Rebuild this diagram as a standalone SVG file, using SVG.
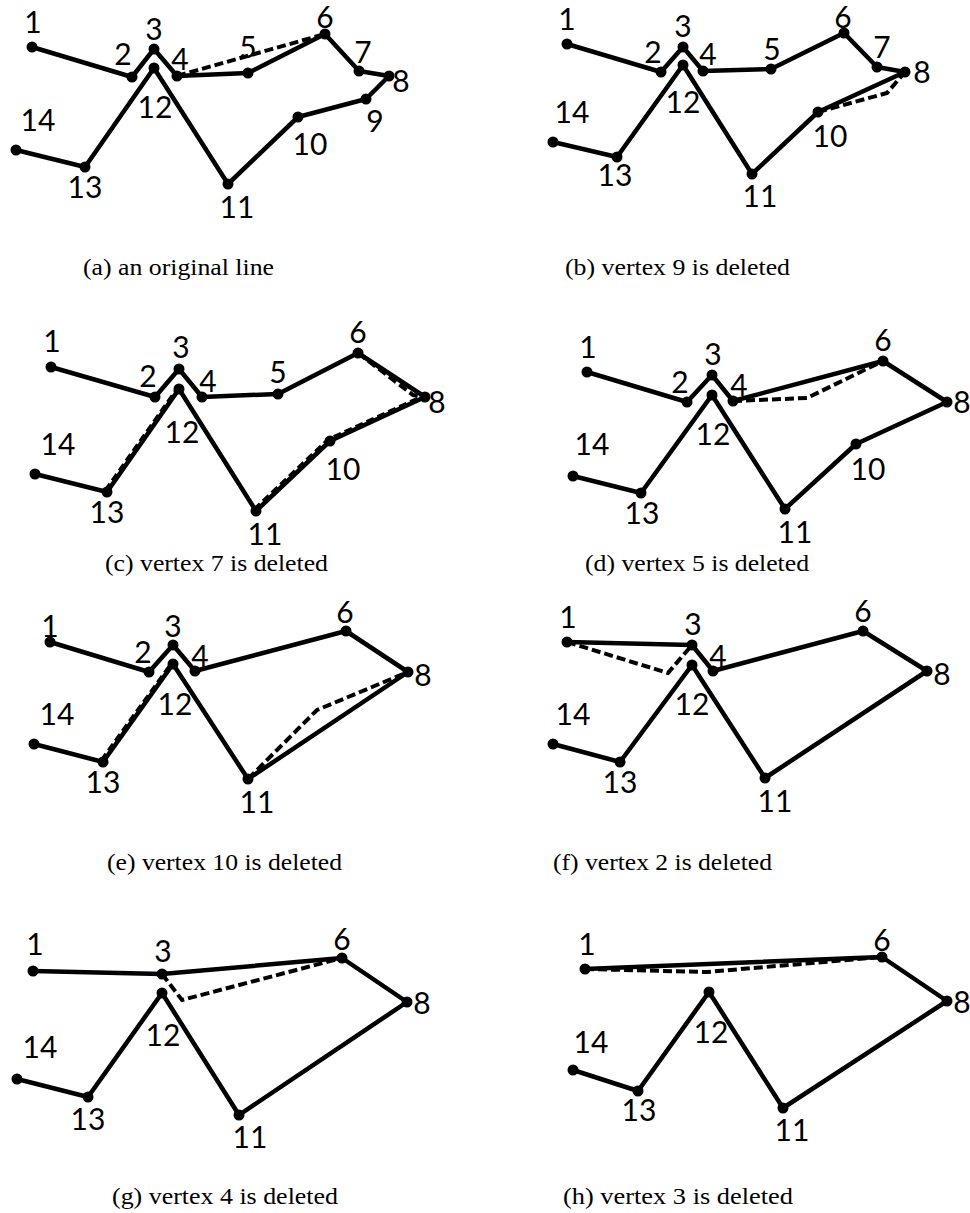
<svg xmlns="http://www.w3.org/2000/svg" width="970" height="1213" viewBox="0 0 970 1213">
  <style>
    .line { fill: none; stroke: #000; stroke-width: 4.5; stroke-linejoin: round; stroke-linecap: round; }
    .old { fill: none; stroke: #000; stroke-width: 4; stroke-dasharray: 9 4; }
    .ghost { fill: none; stroke: #000; stroke-width: 2.5; stroke-dasharray: 8 4; }
    .v circle { fill: #000; }
    .v text { font-family: "Lato", "Liberation Sans", sans-serif; font-weight: 400; font-size: 30px; text-anchor: middle; fill: #000; }
    .cap { font-family: "Liberation Serif", "Times New Roman", serif; font-size: 23px; fill: #000; }
  </style>
  <rect width="970" height="1213" fill="#fff"/>

  <!-- (a) original line -->
  <g id="panel-a">
    <g id="a-connectors">
      <polyline class="line" points="32,47 132,77 154,49 177,76 248,73 325,34 359,71 389,76 366,99 298,117 228,184 154,68 85,167 16,150"/>
      <line class="old" x1="177" y1="76" x2="325" y2="34"/>
    </g>
    <g id="a-v1" class="v"><circle cx="32" cy="47" r="5.5"/><text x="33" y="33">1</text></g>
    <g id="a-v2" class="v"><circle cx="132" cy="77" r="5.5"/><text x="123" y="65">2</text></g>
    <g id="a-v3" class="v"><circle cx="154" cy="49" r="5.5"/><text x="154" y="40">3</text></g>
    <g id="a-v4" class="v"><circle cx="177" cy="76" r="5.5"/><text x="180" y="70">4</text></g>
    <g id="a-v5" class="v"><circle cx="248" cy="73" r="5.5"/><text x="248" y="58">5</text></g>
    <g id="a-v6" class="v"><circle cx="325" cy="34" r="5.5"/><text x="325" y="28">6</text></g>
    <g id="a-v7" class="v"><circle cx="359" cy="71" r="5.5"/><text x="363" y="63">7</text></g>
    <g id="a-v8" class="v"><circle cx="389" cy="76" r="5.5"/><text x="401" y="92">8</text></g>
    <g id="a-v9" class="v"><circle cx="366" cy="99" r="5.5"/><text x="375" y="132">9</text></g>
    <g id="a-v10" class="v"><circle cx="298" cy="117" r="5.5"/><text x="310" y="155">10</text></g>
    <g id="a-v11" class="v"><circle cx="228" cy="184" r="5.5"/><text x="237" y="218">11</text></g>
    <g id="a-v12" class="v"><circle cx="154" cy="68" r="5.5"/><text x="155" y="118">12</text></g>
    <g id="a-v13" class="v"><circle cx="85" cy="167" r="5.5"/><text x="85" y="198">13</text></g>
    <g id="a-v14" class="v"><circle cx="16" cy="150" r="5.5"/><text x="38" y="131">14</text></g>
    <text class="cap" x="83" y="275" textLength="191" lengthAdjust="spacingAndGlyphs">(a) an original line</text>
  </g>

  <!-- (b) vertex 9 removed -->
  <g id="panel-b">
    <g id="b-connectors">
      <polyline class="line" points="567,44 661,72 683,47 703,71 771,69 844,33 877,67 905,72 818,112 752,174 683,65 617,157 553,142"/>
      <polyline class="old" points="818,112 887,93 905,72"/>
    </g>
    <g id="b-v1" class="v"><circle cx="567" cy="44" r="5.5"/><text x="567" y="30">1</text></g>
    <g id="b-v2" class="v"><circle cx="661" cy="72" r="5.5"/><text x="653" y="63">2</text></g>
    <g id="b-v3" class="v"><circle cx="683" cy="47" r="5.5"/><text x="683" y="37">3</text></g>
    <g id="b-v4" class="v"><circle cx="703" cy="71" r="5.5"/><text x="708" y="65">4</text></g>
    <g id="b-v5" class="v"><circle cx="771" cy="69" r="5.5"/><text x="772" y="60">5</text></g>
    <g id="b-v6" class="v"><circle cx="844" cy="33" r="5.5"/><text x="843" y="28">6</text></g>
    <g id="b-v7" class="v"><circle cx="877" cy="67" r="5.5"/><text x="882" y="58">7</text></g>
    <g id="b-v8" class="v"><circle cx="905" cy="72" r="5.5"/><text x="922" y="83">8</text></g>
    <g id="b-v10" class="v"><circle cx="818" cy="112" r="5.5"/><text x="830" y="147">10</text></g>
    <g id="b-v11" class="v"><circle cx="752" cy="174" r="5.5"/><text x="760" y="207">11</text></g>
    <g id="b-v12" class="v"><circle cx="683" cy="65" r="5.5"/><text x="683" y="113">12</text></g>
    <g id="b-v13" class="v"><circle cx="617" cy="157" r="5.5"/><text x="615" y="186">13</text></g>
    <g id="b-v14" class="v"><circle cx="553" cy="142" r="5.5"/><text x="572" y="123">14</text></g>
    <text class="cap" x="565" y="275" textLength="225" lengthAdjust="spacingAndGlyphs">(b) vertex 9 is deleted</text>
  </g>

  <!-- (c) vertex 7 removed -->
  <g id="panel-c">
    <g id="c-connectors">
      <polyline class="line" points="51,367 155,397 179,369 202,397 278,394 358,353 425,397 330,441 256,511 179,389 107,492 35,474"/>
      <polyline class="old" points="358,353 413,395 425,397"/>
      <line class="ghost" x1="105" y1="490" x2="177" y2="388"/>
      <polyline class="ghost" points="254,509 328,439 424,395"/>
    </g>
    <g id="c-v1" class="v"><circle cx="51" cy="367" r="5.5"/><text x="52" y="352">1</text></g>
    <g id="c-v2" class="v"><circle cx="155" cy="397" r="5.5"/><text x="148" y="387">2</text></g>
    <g id="c-v3" class="v"><circle cx="179" cy="369" r="5.5"/><text x="181" y="358">3</text></g>
    <g id="c-v4" class="v"><circle cx="202" cy="397" r="5.5"/><text x="208" y="392">4</text></g>
    <g id="c-v5" class="v"><circle cx="278" cy="394" r="5.5"/><text x="278" y="383">5</text></g>
    <g id="c-v6" class="v"><circle cx="358" cy="353" r="5.5"/><text x="358" y="343">6</text></g>
    <g id="c-v8" class="v"><circle cx="425" cy="397" r="5.5"/><text x="437" y="413">8</text></g>
    <g id="c-v10" class="v"><circle cx="330" cy="441" r="5.5"/><text x="343" y="480">10</text></g>
    <g id="c-v11" class="v"><circle cx="256" cy="511" r="5.5"/><text x="265" y="545">11</text></g>
    <g id="c-v12" class="v"><circle cx="179" cy="389" r="5.5"/><text x="182" y="443">12</text></g>
    <g id="c-v13" class="v"><circle cx="107" cy="492" r="5.5"/><text x="107" y="523">13</text></g>
    <g id="c-v14" class="v"><circle cx="35" cy="474" r="5.5"/><text x="58" y="455">14</text></g>
    <text class="cap" x="105" y="571" textLength="223" lengthAdjust="spacingAndGlyphs">(c) vertex 7 is deleted</text>
  </g>

  <!-- (d) vertex 5 removed -->
  <g id="panel-d">
    <g id="d-connectors">
      <polyline class="line" points="587,372 687,402 712,375 733,401 883,361 947,402 856,444 785,509 712,395 641,493 573,476"/>
      <polyline class="old" points="733,401 807,398 883,361"/>
    </g>
    <g id="d-v1" class="v"><circle cx="587" cy="372" r="5.5"/><text x="588" y="358">1</text></g>
    <g id="d-v2" class="v"><circle cx="687" cy="402" r="5.5"/><text x="680" y="393">2</text></g>
    <g id="d-v3" class="v"><circle cx="712" cy="375" r="5.5"/><text x="713" y="365">3</text></g>
    <g id="d-v4" class="v"><circle cx="733" cy="401" r="5.5"/><text x="739" y="396">4</text></g>
    <g id="d-v6" class="v"><circle cx="883" cy="361" r="5.5"/><text x="883" y="351">6</text></g>
    <g id="d-v8" class="v"><circle cx="947" cy="402" r="5.5"/><text x="962" y="413">8</text></g>
    <g id="d-v10" class="v"><circle cx="856" cy="444" r="5.5"/><text x="868" y="480">10</text></g>
    <g id="d-v11" class="v"><circle cx="785" cy="509" r="5.5"/><text x="795" y="543">11</text></g>
    <g id="d-v12" class="v"><circle cx="712" cy="395" r="5.5"/><text x="713" y="445">12</text></g>
    <g id="d-v13" class="v"><circle cx="641" cy="493" r="5.5"/><text x="642" y="524">13</text></g>
    <g id="d-v14" class="v"><circle cx="573" cy="476" r="5.5"/><text x="592" y="455">14</text></g>
    <text class="cap" x="585" y="571" textLength="224" lengthAdjust="spacingAndGlyphs">(d) vertex 5 is deleted</text>
  </g>

  <!-- (e) vertex 10 removed -->
  <g id="panel-e">
    <g id="e-connectors">
      <polyline class="line" points="50,642 149,672 173,645 195,671 346,631 408,672 248,779 173,664 103,762 34,744"/>
      <polyline class="old" points="248,779 317,710 408,672"/>
      <line class="ghost" x1="101" y1="760" x2="171" y2="663"/>
    </g>
    <g id="e-v1" class="v"><circle cx="50" cy="642" r="5.5"/><text x="50" y="637">1</text></g>
    <g id="e-v2" class="v"><circle cx="149" cy="672" r="5.5"/><text x="143" y="663">2</text></g>
    <g id="e-v3" class="v"><circle cx="173" cy="645" r="5.5"/><text x="173" y="637">3</text></g>
    <g id="e-v4" class="v"><circle cx="195" cy="671" r="5.5"/><text x="200" y="667">4</text></g>
    <g id="e-v6" class="v"><circle cx="346" cy="631" r="5.5"/><text x="345" y="623">6</text></g>
    <g id="e-v8" class="v"><circle cx="408" cy="672" r="5.5"/><text x="423" y="686">8</text></g>
    <g id="e-v11" class="v"><circle cx="248" cy="779" r="5.5"/><text x="257" y="813">11</text></g>
    <g id="e-v12" class="v"><circle cx="173" cy="664" r="5.5"/><text x="175" y="715">12</text></g>
    <g id="e-v13" class="v"><circle cx="103" cy="762" r="5.5"/><text x="103" y="793">13</text></g>
    <g id="e-v14" class="v"><circle cx="34" cy="744" r="5.5"/><text x="57" y="725">14</text></g>
    <text class="cap" x="107" y="870" textLength="235" lengthAdjust="spacingAndGlyphs">(e) vertex 10 is deleted</text>
  </g>

  <!-- (f) vertex 2 removed -->
  <g id="panel-f">
    <g id="f-connectors">
      <polyline class="line" points="567,642 692,645 713,671 863,631 927,671 765,778 692,665 620,762 553,744"/>
      <polyline class="old" points="567,642 668,673 692,645"/>
    </g>
    <g id="f-v1" class="v"><circle cx="567" cy="642" r="5.5"/><text x="568" y="628">1</text></g>
    <g id="f-v3" class="v"><circle cx="692" cy="645" r="5.5"/><text x="693" y="635">3</text></g>
    <g id="f-v4" class="v"><circle cx="713" cy="671" r="5.5"/><text x="718" y="667">4</text></g>
    <g id="f-v6" class="v"><circle cx="863" cy="631" r="5.5"/><text x="863" y="622">6</text></g>
    <g id="f-v8" class="v"><circle cx="927" cy="671" r="5.5"/><text x="942" y="685">8</text></g>
    <g id="f-v11" class="v"><circle cx="765" cy="778" r="5.5"/><text x="775" y="812">11</text></g>
    <g id="f-v12" class="v"><circle cx="692" cy="665" r="5.5"/><text x="692" y="715">12</text></g>
    <g id="f-v13" class="v"><circle cx="620" cy="762" r="5.5"/><text x="620" y="793">13</text></g>
    <g id="f-v14" class="v"><circle cx="553" cy="744" r="5.5"/><text x="573" y="725">14</text></g>
    <text class="cap" x="553" y="870" textLength="219" lengthAdjust="spacingAndGlyphs">(f) vertex 2 is deleted</text>
  </g>

  <!-- (g) vertex 4 removed -->
  <g id="panel-g">
    <g id="g-connectors">
      <polyline class="line" points="33,971 162,974 342,958 407,1002 239,1115 162,993 88,1097 17,1079"/>
      <polyline class="old" points="162,974 182,1000 342,958"/>
    </g>
    <g id="g-v1" class="v"><circle cx="33" cy="971" r="5.5"/><text x="35" y="955">1</text></g>
    <g id="g-v3" class="v"><circle cx="162" cy="974" r="5.5"/><text x="163" y="962">3</text></g>
    <g id="g-v6" class="v"><circle cx="342" cy="958" r="5.5"/><text x="342" y="950">6</text></g>
    <g id="g-v8" class="v"><circle cx="407" cy="1002" r="5.5"/><text x="422" y="1014">8</text></g>
    <g id="g-v11" class="v"><circle cx="239" cy="1115" r="5.5"/><text x="250" y="1148">11</text></g>
    <g id="g-v12" class="v"><circle cx="162" cy="993" r="5.5"/><text x="163" y="1046">12</text></g>
    <g id="g-v13" class="v"><circle cx="88" cy="1097" r="5.5"/><text x="88" y="1130">13</text></g>
    <g id="g-v14" class="v"><circle cx="17" cy="1079" r="5.5"/><text x="40" y="1058">14</text></g>
    <text class="cap" x="112" y="1204" textLength="226" lengthAdjust="spacingAndGlyphs">(g) vertex 4 is deleted</text>
  </g>

  <!-- (h) vertex 3 removed -->
  <g id="panel-h">
    <g id="h-connectors">
      <polyline class="line" points="585,969 882,957 947,1001 783,1108 709,992 638,1091 573,1070"/>
      <polyline class="old" points="585,969 707,972 882,957"/>
    </g>
    <g id="h-v1" class="v"><circle cx="585" cy="969" r="5.5"/><text x="587" y="955">1</text></g>
    <g id="h-v6" class="v"><circle cx="882" cy="957" r="5.5"/><text x="882" y="951">6</text></g>
    <g id="h-v8" class="v"><circle cx="947" cy="1001" r="5.5"/><text x="962" y="1013">8</text></g>
    <g id="h-v11" class="v"><circle cx="783" cy="1108" r="5.5"/><text x="792" y="1141">11</text></g>
    <g id="h-v12" class="v"><circle cx="709" cy="992" r="5.5"/><text x="711" y="1043">12</text></g>
    <g id="h-v13" class="v"><circle cx="638" cy="1091" r="5.5"/><text x="639" y="1121">13</text></g>
    <g id="h-v14" class="v"><circle cx="573" cy="1070" r="5.5"/><text x="591" y="1053">14</text></g>
    <text class="cap" x="563" y="1204" textLength="230" lengthAdjust="spacingAndGlyphs">(h) vertex 3 is deleted</text>
  </g>
</svg>
